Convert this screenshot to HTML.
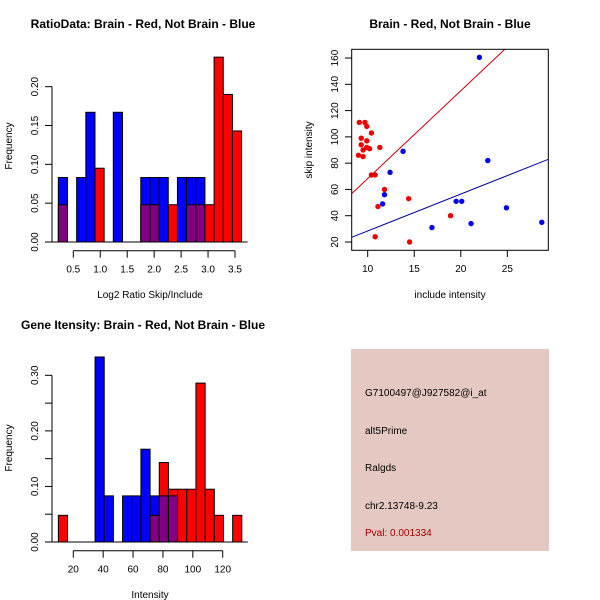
<!DOCTYPE html>
<html><head><meta charset="utf-8"><style>
body{margin:0;background:#fff}
svg{display:block;font-family:"Liberation Sans",sans-serif}
</style></head><body>
<svg id="c" width="600" height="600" xmlns="http://www.w3.org/2000/svg">
<rect width="600" height="600" fill="#fff"/>
<text x="143" y="28" font-size="12" font-weight="bold" text-anchor="middle">RatioData: Brain - Red, Not Brain - Blue</text>
<text x="450" y="28" font-size="12" font-weight="bold" text-anchor="middle">Brain - Red, Not Brain - Blue</text>
<text x="143" y="329" font-size="12" font-weight="bold" text-anchor="middle">Gene Itensity: Brain - Red, Not Brain - Blue</text>
<text x="150" y="298" font-size="10" text-anchor="middle">Log2 Ratio Skip/Include</text>
<text transform="translate(12,146) rotate(-90)" font-size="10" text-anchor="middle">Frequency</text>
<text x="450" y="298" font-size="10" text-anchor="middle">include intensity</text>
<text transform="translate(312,150) rotate(-90)" font-size="10" text-anchor="middle">skip intensity</text>
<text x="150" y="598" font-size="10" text-anchor="middle">Intensity</text>
<text transform="translate(12,448) rotate(-90)" font-size="10" text-anchor="middle">Frequency</text>
<g>
<rect x="351" y="349" width="198" height="202" fill="#e6c8c2"/>
<text x="365" y="396" font-size="10">G7100497@J927582@i_at</text>
<text x="365" y="434" font-size="10">alt5Prime</text>
<text x="365" y="471" font-size="10">Ralgds</text>
<text x="365" y="509" font-size="10">chr2.13748-9.23</text>
<text x="365" y="536" font-size="10" fill="#a00000">Pval: 0.001334</text>
</g>
</svg>
<script>
const ratioBlue=[0.083,0,0.083,0.167,0,0,0.167,0,0,0.083,0.083,0.083,0,0.083,0.083,0.083,0,0,0,0];
const ratioRed=[0.048,0,0,0,0.095,0,0,0,0,0.048,0.048,0,0.048,0,0.048,0.048,0.048,0.238,0.190,0.143];
const ratioTicksX=[0.5,1.0,1.5,2.0,2.5,3.0,3.5];
const ratioTicksY=[0,0.05,0.10,0.15,0.20];
const geneBlue=[0,0,0,0,0.333,0.083,0,0.083,0.083,0.167,0.083,0.083,0.083,0,0,0,0,0,0,0];
const geneRed=[0.048,0,0,0,0,0,0,0,0,0,0.048,0.143,0.095,0.095,0.095,0.286,0.095,0.048,0,0.048];
const geneTicksX=[20,40,60,80,100,120];
const geneTicksY=[0,0.05,0.10,0.15,0.20,0.25,0.30];
const redX=[9.1,9.7,9.9,10.4,9.3,9.9,9.3,9.9,10.2,11.3,9.0,9.5,9.5,10.4,10.8,11.8,11.1,14.4,18.9,10.8,14.5];
const redY=[111,111,108,103,99,97,94,92,91,92,86,85,90,71,71,60,47,53,40,24,20];
const blueX=[22.0,13.8,22.9,12.4,11.8,11.6,19.5,20.1,16.9,21.1,24.9,28.7];
const blueY=[160.5,89,82,73,56,49,51,51,31,34,46,35];
const redFit=[1.5,6.68];
const blueFit=[0.3,2.81];
const scTicksX=[10,15,20,25];
const scTicksY=[20,40,60,80,100,120,140,160];

const svg=document.getElementById('c');
const NS='http://www.w3.org/2000/svg';
function mk(tag,a,name,parent){const e=document.createElementNS(NS,tag);for(const k in a)e.setAttribute(k,a[k]);


(parent||svg).appendChild(e);return e;}
function fmt(v,d){return v.toFixed(d);}

function hist(blue,red,x0,bw,x,y,ticksX,ticksY,xd,yd,labelEvery,xAxisY,name){
  const g=mk('g',{},name);
  const right=x(x0+bw*blue.length);
  mk('line',{x1:52,x2:right+6,y1:y(0),y2:y(0),stroke:'#000'},'baseline',g);
  for(let i=0;i<blue.length;i++){
    const a=x(x0+bw*i),b=x(x0+bw*(i+1)),B=blue[i],R=red[i];
    const draw=(v,col,n)=>{if(v>0)mk('rect',{x:a,y:y(v),width:b-a,height:y(0)-y(v),fill:col,stroke:'#000','stroke-width':1},n,g);};
    if(B>=R){draw(B,'#0000ff','bar-blue');} else {draw(R,'#ff0000','bar-red');}
    if(B>0&&R>0)draw(Math.min(B,R),'#800080','bar-overlap');
  }
  const yv=ticksY[ticksY.length-1];
  mk('line',{x1:52,x2:52,y1:y(0),y2:y(yv),stroke:'#000'},'y-axis',g);
  ticksY.forEach((t,i)=>{mk('line',{x1:45,x2:52,y1:y(t),y2:y(t),stroke:'#000'},'y-tick',g);
    if(i%labelEvery==0){const tx=mk('text',{transform:`translate(38,${y(t)}) rotate(-90)`,'font-size':10,'text-anchor':'middle'},'y-tick-label',g);tx.textContent=fmt(t,2);}});
  mk('line',{x1:x(ticksX[0]),x2:x(ticksX[ticksX.length-1]),y1:xAxisY,y2:xAxisY,stroke:'#000'},'x-axis',g);
  ticksX.forEach(t=>{mk('line',{x1:x(t),x2:x(t),y1:xAxisY,y2:xAxisY+7,stroke:'#000'},'x-tick',g);
    const tx=mk('text',{x:x(t),y:xAxisY+22,'font-size':10,'text-anchor':'middle'},'x-tick-label',g);tx.textContent=fmt(t,xd);});
}
const rx=v=>73.3+(v-0.5)*53.9, ry=v=>242-v*776.7;
hist(ratioBlue,ratioRed,0.222,0.17,rx,ry,ratioTicksX,ratioTicksY,1,2,1,250.7,'ratio-histogram');
const gx=v=>73.3+(v-20)*1.494, gy=v=>542-v*555.6;
hist(geneBlue,geneRed,10.0,6.14,gx,gy,geneTicksX,geneTicksY,0,2,2,550.7,'gene-histogram');

const sx=v=>367.7+(v-10)*9.31, sy=v=>242-(v-20)*1.314;
const sg=mk('g',{},'scatter-plot');
const cp=mk('clipPath',{id:'cp'},'clip',sg);
mk('rect',{x:351.7,y:49.3,width:196.6,height:201},'clip-rect',cp);
redX.forEach((v,i)=>mk('circle',{cx:sx(v),cy:sy(redY[i]),r:2.7,fill:'#ee0000'},'red-point',sg));
blueX.forEach((v,i)=>mk('circle',{cx:sx(v),cy:sy(blueY[i]),r:2.7,fill:'#0000ee'},'blue-point',sg));
const fx0=8.2,fx1=29.5;
mk('line',{x1:sx(fx0),y1:sy(redFit[0]+redFit[1]*fx0),x2:sx(fx1),y2:sy(redFit[0]+redFit[1]*fx1),stroke:'#c00010','clip-path':'url(#cp)'},'red-fit-line',sg);
mk('line',{x1:sx(fx0),y1:sy(blueFit[0]+blueFit[1]*fx0),x2:sx(fx1),y2:sy(blueFit[0]+blueFit[1]*fx1),stroke:'#0000a0','clip-path':'url(#cp)'},'blue-fit-line',sg);
mk('rect',{x:351.7,y:49.3,width:196.6,height:201,fill:'none',stroke:'#000'},'plot-box',sg);
scTicksX.forEach(t=>{mk('line',{x1:sx(t),x2:sx(t),y1:250.3,y2:257,stroke:'#000'},'x-tick',sg);
  const tx=mk('text',{x:sx(t),y:272,'font-size':10,'text-anchor':'middle'},'x-tick-label',sg);tx.textContent=t;});
scTicksY.forEach(t=>{mk('line',{x1:345,x2:351.7,y1:sy(t),y2:sy(t),stroke:'#000'},'y-tick',sg);
  const tx=mk('text',{transform:`translate(338,${sy(t)}) rotate(-90)`,'font-size':10,'text-anchor':'middle'},'y-tick-label',sg);tx.textContent=t;});
</script>
</body></html>
